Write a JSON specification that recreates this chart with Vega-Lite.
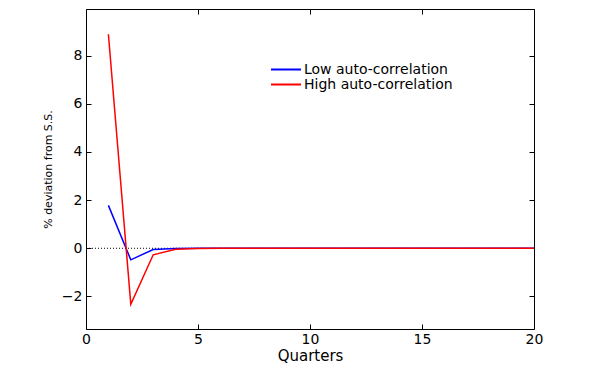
{
  "$schema": "https://vega.github.io/schema/vega-lite/v6.json",
  "width": 448,
  "height": 320,
  "autosize": {"type": "none"},
  "padding": {"left": 86, "top": 9, "right": 66, "bottom": 47},
  "background": "white",
  "config": {
    "font": "DejaVu Sans",
    "view": {"stroke": "black", "strokeWidth": 1},
    "axis": {"grid": false, "domain": false, "tickColor": "black", "tickSize": 5, "offset": -5, "labelColor": "black", "titleColor": "black", "labelFont": "DejaVu Sans", "titleFont": "DejaVu Sans", "titleFontWeight": "normal", "labelFlush": false}
  },
  "datasets": {
    "irf": [
      {"series": "Low auto-correlation", "quarter": 1, "value": 1.78},
      {"series": "Low auto-correlation", "quarter": 2, "value": -0.48},
      {"series": "Low auto-correlation", "quarter": 3, "value": -0.05},
      {"series": "Low auto-correlation", "quarter": 4, "value": -0.01},
      {"series": "Low auto-correlation", "quarter": 5, "value": 0},
      {"series": "Low auto-correlation", "quarter": 6, "value": 0},
      {"series": "Low auto-correlation", "quarter": 7, "value": 0},
      {"series": "Low auto-correlation", "quarter": 8, "value": 0},
      {"series": "Low auto-correlation", "quarter": 9, "value": 0},
      {"series": "Low auto-correlation", "quarter": 10, "value": 0},
      {"series": "Low auto-correlation", "quarter": 11, "value": 0},
      {"series": "Low auto-correlation", "quarter": 12, "value": 0},
      {"series": "Low auto-correlation", "quarter": 13, "value": 0},
      {"series": "Low auto-correlation", "quarter": 14, "value": 0},
      {"series": "Low auto-correlation", "quarter": 15, "value": 0},
      {"series": "Low auto-correlation", "quarter": 16, "value": 0},
      {"series": "Low auto-correlation", "quarter": 17, "value": 0},
      {"series": "Low auto-correlation", "quarter": 18, "value": 0},
      {"series": "Low auto-correlation", "quarter": 19, "value": 0},
      {"series": "Low auto-correlation", "quarter": 20, "value": 0},
      {"series": "High auto-correlation", "quarter": 1, "value": 8.88},
      {"series": "High auto-correlation", "quarter": 2, "value": -2.33},
      {"series": "High auto-correlation", "quarter": 3, "value": -0.27},
      {"series": "High auto-correlation", "quarter": 4, "value": -0.04},
      {"series": "High auto-correlation", "quarter": 5, "value": -0.005},
      {"series": "High auto-correlation", "quarter": 6, "value": 0},
      {"series": "High auto-correlation", "quarter": 7, "value": 0},
      {"series": "High auto-correlation", "quarter": 8, "value": 0},
      {"series": "High auto-correlation", "quarter": 9, "value": 0},
      {"series": "High auto-correlation", "quarter": 10, "value": 0},
      {"series": "High auto-correlation", "quarter": 11, "value": 0},
      {"series": "High auto-correlation", "quarter": 12, "value": 0},
      {"series": "High auto-correlation", "quarter": 13, "value": 0},
      {"series": "High auto-correlation", "quarter": 14, "value": 0},
      {"series": "High auto-correlation", "quarter": 15, "value": 0},
      {"series": "High auto-correlation", "quarter": 16, "value": 0},
      {"series": "High auto-correlation", "quarter": 17, "value": 0},
      {"series": "High auto-correlation", "quarter": 18, "value": 0},
      {"series": "High auto-correlation", "quarter": 19, "value": 0},
      {"series": "High auto-correlation", "quarter": 20, "value": 0}
    ],
    "zero": [{"level": 0}]
  },
  "layer": [
    {
      "data": {"name": "zero"},
      "mark": {"type": "rule", "color": "black", "strokeWidth": 1, "strokeDash": [1, 2]},
      "encoding": {
        "y": {"field": "level", "type": "quantitative", "scale": {"domain": [-3.35, 9.93], "nice": false, "zero": false}, "axis": null}
      }
    },
    {
      "data": {"name": "irf"},
      "mark": {"type": "line", "strokeWidth": 1.5, "clip": true},
      "encoding": {
        "x": {"field": "quarter", "type": "quantitative", "scale": {"domain": [0, 20], "nice": false},
              "axis": {"orient": "bottom", "values": [0, 5, 10, 15, 20], "title": "Quarters", "labelFontSize": 14, "titleFontSize": 15, "labelPadding": 3, "titlePadding": 2}},
        "y": {"field": "value", "type": "quantitative", "scale": {"domain": [-3.35, 9.93], "nice": false, "zero": false},
              "axis": {"orient": "left", "values": [-2, 0, 2, 4, 6, 8], "title": "% deviation from S.S.", "labelFontSize": 14, "titleFontSize": 11, "labelPadding": 4, "titleX": -43, "titleY": 160, "titleAlign": "center", "titleBaseline": "middle", "titleAngle": -90}},
        "color": {"field": "series", "type": "nominal",
                  "scale": {"domain": ["Low auto-correlation", "High auto-correlation"], "range": ["#0000ff", "#ff0000"]},
                  "legend": {"orient": "none", "legendX": 184, "legendY": 53, "padding": 0, "title": null, "symbolType": "stroke", "symbolSize": 900, "symbolStrokeWidth": 2, "clipHeight": 15, "rowPadding": 0, "labelFontSize": 14, "labelFont": "DejaVu Sans", "labelColor": "black", "labelOffset": 2}}
      }
    },
    {
      "data": {"name": "irf"},
      "mark": {"type": "point", "opacity": 0},
      "encoding": {
        "x": {"field": "quarter", "type": "quantitative", "scale": {"domain": [0, 20], "nice": false},
              "axis": {"orient": "top", "values": [0, 5, 10, 15, 20], "labels": false, "title": null}},
        "y": {"field": "value", "type": "quantitative", "scale": {"domain": [-3.35, 9.93], "nice": false, "zero": false},
              "axis": {"orient": "right", "values": [-2, 0, 2, 4, 6, 8], "labels": false, "title": null}}
      }
    }
  ],
  "resolve": {"axis": {"x": "independent", "y": "independent"}}
}
